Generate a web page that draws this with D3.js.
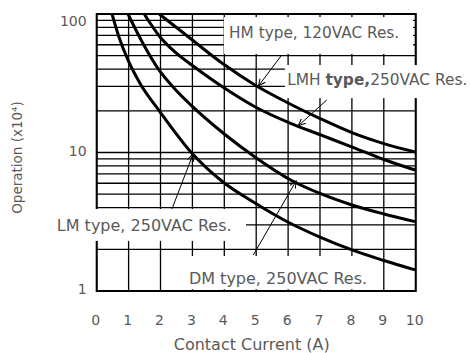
<!DOCTYPE html>
<html>
<head>
<meta charset="utf-8">
<script src="https://cdn.jsdelivr.net/npm/d3@7.9.0/dist/d3.min.js"></script>
<style>
  body { margin: 0; background: #fff; }
  svg text { font-family: "DejaVu Sans", sans-serif; fill: #5a5a5a; }
</style>
</head>
<body>
<svg id="chart" width="471" height="353"></svg>
<script>
// contact current (A) vs operations (x10^4)
const lmCurve  = [[0.48,100],[0.7,68],[0.99,46],[1.36,31.5],[1.99,19.6],[2.98,9.92],[3.96,6.12],[4.96,4.32],[5.99,3.15],[7.0,2.45],[8.0,1.98],[9.0,1.66],[9.98,1.42]];
const dmCurve  = [[0.98,100],[1.46,60.7],[1.93,40.1],[2.45,28.7],[2.98,21.7],[4.0,13.6],[4.96,9.28],[6.11,6.28],[7.0,5.06],[8.0,4.18],[9.0,3.6],[9.98,3.17]];
const lmhCurve = [[1.49,100],[1.96,69.4],[2.45,53.2],[2.98,42.8],[4.0,29.2],[4.96,21.4],[6.06,16.3],[7.02,13.4],[8.03,10.9],[9.0,8.9],[9.98,7.47]];
const hmCurve  = [[1.96,100],[2.8,70.5],[3.97,43.5],[4.96,30.7],[6.06,22.4],[7.02,17.5],[8.04,13.8],[9.0,11.6],[9.98,10.1]];

const xTicks = d3.range(0, 11);
const yGrid = [1,2,3,4,5,6,7,8,9,10,20,30,40,50,60,70,80,90,100];
const yTickLabels = [1, 10, 100];

// annotation boxes [x0, x1, vTop, vBottom], label anchor [x, v], arrow [tail, tip]
const notes = [
  { box: [3.99, 9.92, 95, 51.5],  at: [4.15, 72.6], size: 15.3, arrow: [[5.80, 50.6], [5.07, 30.2]], parts: [["HM type, 120VAC Res.", 400]] },
  { box: [5.90, 11.8, 42.8, 24.7], at: [5.97, 33.4], size: 15.4, arrow: [[7.21, 23.9], [6.32, 15.6]], parts: [["LMH ", 400], ["type,", 700], ["250VAC Res.", 400]] },
  { box: [-1.46, 4.68, 3.91, 2.30], at: [-1.25, 3.0], size: 16, arrow: [[2.36, 3.91], [3.02, 9.75]], parts: [["LM type, 250VAC Res.", 400]] },
  { box: [2.80, 8.91, 1.79, 1.03], at: [2.89, 1.24], size: 16, arrow: [[4.91, 1.82], [6.25, 6.23]], parts: [["DM type, 250VAC Res.", 400]] }
];

const plotLeft = 96.7, plotRight = 415.7, plotTop = 14, plotBottom = 291;
const svg = d3.select('#chart');

const x = d3.scaleLinear().domain([0, 10]).range([plotLeft, plotRight]);
const y = d3.scaleLog().domain([1, 100]).range([plotBottom, plotTop]);

svg.append('defs').append('marker')
  .attr('id', 'head')
  .attr('viewBox', '0 0 10 10')
  .attr('refX', 9).attr('refY', 5)
  .attr('markerWidth', 8).attr('markerHeight', 8)
  .attr('markerUnits', 'userSpaceOnUse')
  .attr('orient', 'auto')
  .append('path').attr('d', 'M0,1 L9,5 L0,9')
  .attr('fill', 'none').attr('stroke', '#000').attr('stroke-width', 1.3);

// grid
svg.append('g').selectAll('line').data(xTicks).join('line')
  .attr('x1', d => x(d)).attr('x2', d => x(d))
  .attr('y1', plotTop).attr('y2', plotBottom)
  .attr('stroke', '#000').attr('stroke-width', 1.3);

svg.append('g').selectAll('line').data(yGrid).join('line')
  .attr('x1', plotLeft).attr('x2', plotRight)
  .attr('y1', d => y(d)).attr('y2', d => y(d))
  .attr('stroke', '#000').attr('stroke-width', 1.3);

svg.append('rect')
  .attr('x', plotLeft).attr('y', plotTop)
  .attr('width', plotRight - plotLeft).attr('height', plotBottom - plotTop)
  .attr('fill', 'none').attr('stroke', '#000').attr('stroke-width', 2);

// white label boxes over the grid
svg.append('g').selectAll('rect').data(notes).join('rect')
  .attr('x', d => x(d.box[0]))
  .attr('y', d => y(d.box[2]))
  .attr('width', d => x(d.box[1]) - x(d.box[0]))
  .attr('height', d => y(d.box[3]) - y(d.box[2]))
  .attr('fill', '#fff');

// curves
const line = d3.line()
  .x(d => x(d[0]))
  .y(d => y(d[1]))
  .curve(d3.curveMonotoneX);

svg.append('g').selectAll('path')
  .data([lmCurve, dmCurve, lmhCurve, hmCurve])
  .join('path')
  .attr('d', line)
  .attr('fill', 'none')
  .attr('stroke', '#000')
  .attr('stroke-width', 3);

// arrows
svg.append('g').selectAll('line').data(notes).join('line')
  .attr('x1', d => x(d.arrow[0][0])).attr('y1', d => y(d.arrow[0][1]))
  .attr('x2', d => x(d.arrow[1][0])).attr('y2', d => y(d.arrow[1][1]))
  .attr('stroke', '#000').attr('stroke-width', 1)
  .attr('marker-end', 'url(#head)');

// label text
svg.append('g').selectAll('text').data(notes).join('text')
  .attr('x', d => x(d.at[0]))
  .attr('y', d => y(d.at[1]))
  .attr('dominant-baseline', 'central')
  .attr('font-size', d => d.size)
  .each(function(d) {
    d3.select(this).selectAll('tspan').data(d.parts).join('tspan')
      .attr('font-weight', p => p[1])
      .text(p => p[0]);
  });

// axes
const xAxis = svg.append('g')
  .attr('transform', `translate(0,${plotBottom})`)
  .call(d3.axisBottom(x).tickValues(xTicks).tickSize(0).tickPadding(24));
xAxis.select('.domain').remove();
xAxis.selectAll('text').attr('font-size', 14).attr('dx', -1.5).attr('fill', '#5a5a5a');

const yAxis = svg.append('g')
  .attr('transform', `translate(${plotLeft},0)`)
  .call(d3.axisLeft(y).tickValues(yTickLabels).tickFormat(d3.format('d')).tickSize(0).tickPadding(10));
yAxis.select('.domain').remove();
yAxis.selectAll('text').attr('font-size', 14).attr('fill', '#5a5a5a')
  .attr('dy', d => d === 100 ? '0.85em' : '0.2em');

svg.selectAll('.tick text').attr('font-family', '"DejaVu Sans", sans-serif');

svg.append('text')
  .attr('x', (plotLeft + plotRight) / 2 - 4.5)
  .attr('y', 344)
  .attr('text-anchor', 'middle')
  .attr('dominant-baseline', 'central')
  .attr('font-size', 16)
  .text('Contact Current (A)');

svg.append('text')
  .attr('transform', `translate(17,${(plotTop + plotBottom) / 2 + 5}) rotate(-90)`)
  .attr('text-anchor', 'middle')
  .attr('dominant-baseline', 'central')
  .attr('font-size', 13.5)
  .text('Operation (x10⁴)');
</script>
</body>
</html>
